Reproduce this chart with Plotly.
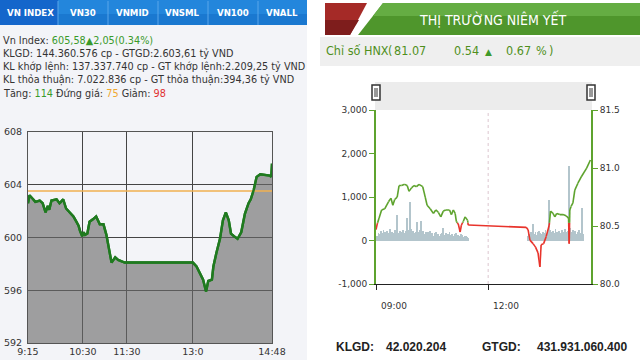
import plotly.graph_objects as go

# ---------------- data ----------------
tabs = ["VN INDEX", "VN30", "VNMID", "VNSML", "VN100", "VNALL"]
tab_centers = [30, 83, 132, 182, 233, 282]

vn_times = ["9:15", "9:17", "9:22", "9:25", "9:31", "9:35", "9:39", "9:42", "9:44", "9:47",
            "9:54", "9:58", "10:00", "10:03", "10:07", "10:10", "10:12", "10:15", "10:17",
            "10:21", "10:24", "10:26", "10:29", "10:31", "10:33", "10:36", "10:39", "10:44",
            "10:48", "10:53", "10:58", "11:02", "11:06", "11:09", "11:14", "11:18", "11:27",
            "13:00", "13:05", "13:10", "13:14", "13:18", "13:21", "13:26", "13:28", "13:32",
            "13:37", "13:41", "13:45", "13:49", "13:52", "13:56", "14:01", "14:06", "14:11",
            "14:16", "14:19", "14:23", "14:27", "14:32", "14:45", "14:47", "14:48"]
vn_values = [602.6, 603.2, 602.9, 602.7, 602.8, 602.6, 601.9, 602.4, 602.1, 602.8,
             602.9, 602.6, 602.7, 602.9, 602.2, 602.0, 601.9, 601.7, 601.6,
             601.2, 600.9, 600.5, 600.1, 600.4, 600.2, 600.3, 601.2, 601.4,
             601.6, 601.0, 601.0, 600.2, 599.0, 598.1, 598.5, 598.3, 598.1,
             598.1, 597.8, 597.3, 596.8, 595.9, 596.7, 596.8, 597.8, 598.8,
             599.9, 601.3, 601.9, 601.3, 600.3, 600.1, 599.9, 600.4, 601.8,
             602.6, 602.9, 603.6, 604.6, 604.8, 604.7, 604.6, 605.6]
vn_ref = 603.53
vn_xtick_times = ["9:15", "10:30", "11:30", "13:00", "14:48"]
vn_xtick_text = ["9:15", "10:30", "11:30", "13:0", "14:48"]
vn_yticks = [592, 596, 600, 604, 608]

hnx_times = ["9:00", "9:02", "9:05", "9:09", "9:14", "9:20", "9:24", "9:27", "9:30", "9:34",
             "9:37", "9:41", "9:46", "9:50", "9:53", "9:57", "10:01", "10:05", "10:09",
             "10:15", "10:19", "10:22", "10:27", "10:32", "10:36", "10:40", "10:44", "10:48",
             "10:52", "10:58", "11:01", "11:04", "11:07", "11:09", "11:12", "11:15", "11:17",
             "11:20", "11:23", "11:27", "11:28", "13:01", "13:04", "13:07", "13:12", "13:16",
             "13:20", "13:23", "13:25", "13:29", "13:33", "13:38", "13:40", "13:44", "13:47",
             "13:50", "13:55", "14:00", "14:05", "14:09", "14:10", "14:11", "14:13", "14:16",
             "14:19", "14:24", "14:30", "14:38", "14:44"]
hnx_values = [80.47, 80.52, 80.57, 80.64, 80.65, 80.71, 80.74, 80.68, 80.73, 80.75,
              80.85, 80.85, 80.86, 80.85, 80.80, 80.83, 80.85, 80.84, 80.86,
              80.84, 80.75, 80.68, 80.65, 80.61, 80.64, 80.62, 80.58, 80.63,
              80.64, 80.64, 80.60, 80.64, 80.61, 80.54, 80.52, 80.45, 80.51,
              80.54, 80.58, 80.55, 80.51, 80.49, 80.47, 80.38, 80.35, 80.32,
              80.27, 80.15, 80.34, 80.35, 80.41, 80.51, 80.63, 80.61, 80.58,
              80.61, 80.60, 80.60, 80.59, 80.57, 80.35, 80.64, 80.67, 80.70,
              80.81, 80.87, 80.93, 81.00, 81.07]
hnx_ref = 80.53

vol_am_start = "9:02"
vol_am = [120, 180, 150, 220, 170, 250, 190, 140, 230, 180, 260, 150, 210, 170, 240, 200,
          590, 180, 230, 160, 210, 250, 170, 220, 520, 240, 900, 260, 190, 230, 170, 210,
          430, 200, 250, 450, 180, 220, 160, 200, 140, 190, 230, 150, 180, 120, 170, 200,
          140, 160, 110, 150, 180, 300, 140, 170, 120, 150, 190, 130, 160, 110, 150, 180,
          120, 140, 100, 160, 130, 90, 120, 100, 80, 60]
vol_pm_start = "13:04"
vol_pm = [100, 150, 200, 170, 380, 160, 210, 140, 190, 230, 170, 150, 200, 180, 240, 160,
          210, 930, 250, 190, 230, 170, 260, 200, 150, 220, 180, 240, 160, 200, 270, 190,
          230, 1720, 300, 210, 250, 180, 220, 160, 200, 240, 180, 740, 150]
vol_step = 2

hnx_xtick_times = ["9:00", "12:00"]
hnx_xtick_text = ["09:00", "12:00"]
vol_ticks = [-1000, 0, 1000, 2000, 3000]
vol_tick_text = ["-1,000", "0", "1,000", "2,000", "3,000"]
price_ticks = [80.0, 80.5, 81.0, 81.5]
price_tick_text = ["80.0", "80.5", "81.0", "81.5"]


def to_min(t):
    h, m = t.split(":")
    return int(h) * 60 + int(m)


W, H = 640, 360
NARROW = "DejaVu Sans Condensed, Liberation Sans Narrow, Liberation Sans"


def px(x):
    return x / W


def py(y):
    return 1 - y / H


vn_x = [to_min(t) for t in vn_times]
hnx_x = [to_min(t) for t in hnx_times]
am_x = [to_min(vol_am_start) + vol_step * i for i in range(len(vol_am))]
pm_x = [to_min(vol_pm_start) + vol_step * i for i in range(len(vol_pm))]


def split_by_ref(xs, ys, ref):
    g = ([], [])
    r = ([], [])
    for i in range(len(xs) - 1):
        x0, y0, x1, y1 = xs[i], ys[i], xs[i + 1], ys[i + 1]
        pts = [(x0, y0)]
        if (y0 - ref) * (y1 - ref) < 0:
            t = (ref - y0) / (y1 - y0)
            pts.append((x0 + t * (x1 - x0), ref))
        pts.append((x1, y1))
        for a, b in zip(pts[:-1], pts[1:]):
            tgt = g if (a[1] + b[1]) / 2 >= ref else r
            tgt[0].extend([a[0], b[0], None])
            tgt[1].extend([a[1], b[1], None])
    return g, r


fig = go.Figure()

# ---------- left chart (VN-Index) ----------
fig.add_trace(go.Scatter(x=vn_x, y=vn_values, mode="lines", xaxis="x", yaxis="y",
                         line=dict(color="#1f7a1f", width=2.4), fill="tozeroy",
                         fillcolor="rgba(105,105,105,0.62)", hoverinfo="skip"))
fig.add_trace(go.Scatter(x=[vn_x[0], vn_x[-1]], y=[vn_ref, vn_ref], mode="lines",
                         xaxis="x", yaxis="y", line=dict(color="#f0b050", width=1.5),
                         hoverinfo="skip"))
fig.add_trace(go.Scatter(x=vn_x, y=vn_values, mode="lines", xaxis="x", yaxis="y",
                         line=dict(color="#1f7a1f", width=2.4), hoverinfo="skip"))

# ---------- right chart (HNX) ----------
fig.add_trace(go.Bar(x=am_x + pm_x, y=vol_am + vol_pm, xaxis="x2", yaxis="y2",
                     width=1.5, marker=dict(color="#b3c5cc", line=dict(width=0)),
                     hoverinfo="skip"))
(gx, gy), (rx, ry) = split_by_ref(hnx_x, hnx_values, hnx_ref)
fig.add_trace(go.Scatter(x=rx, y=ry, mode="lines", xaxis="x2", yaxis="y3",
                         line=dict(color="#e8342c", width=1.6), hoverinfo="skip"))
fig.add_trace(go.Scatter(x=gx, y=gy, mode="lines", xaxis="x2", yaxis="y3",
                         line=dict(color="#5ea32e", width=1.6), hoverinfo="skip"))

shapes = []
# panel backgrounds
shapes.append(dict(type="rect", xref="paper", yref="paper", x0=0, x1=px(307), y0=0, y1=py(25),
                   fillcolor="#f3f4f8", line=dict(width=0), layer="below"))
# tab bar
shapes.append(dict(type="rect", xref="paper", yref="paper", x0=0, x1=px(307), y0=py(25), y1=py(0),
                   fillcolor="#2386dc", line=dict(width=0), layer="below"))
shapes.append(dict(type="rect", xref="paper", yref="paper", x0=0, x1=px(307), y0=py(25), y1=py(14),
                   fillcolor="#1a78d0", line=dict(width=0), layer="below"))
shapes.append(dict(type="rect", xref="paper", yref="paper", x0=0, x1=px(58), y0=py(25), y1=py(0),
                   fillcolor="#1466cb", line=dict(width=0), layer="below"))
for sx in [58, 108, 158, 208, 258]:
    shapes.append(dict(type="line", xref="paper", yref="paper", x0=px(sx), x1=px(sx), y0=py(25), y1=py(1),
                       line=dict(color="#5aa6ea", width=1), layer="below"))

# right header
shapes.append(dict(type="path", xref="paper", yref="paper",
                   path=f"M {px(325)},{py(35)} L {px(325)},{py(3)} L {px(367)},{py(3)} L {px(350)},{py(35)} Z",
                   fillcolor="#a52a27", line=dict(width=0), layer="below"))
shapes.append(dict(type="path", xref="paper", yref="paper",
                   path=f"M {px(325)},{py(35)} L {px(325)},{py(20)} L {px(359)},{py(20)} L {px(350)},{py(35)} Z",
                   fillcolor="#7e1d1c", line=dict(width=0), layer="below"))
shapes.append(dict(type="path", xref="paper", yref="paper",
                   path=f"M {px(358)},{py(35)} L {px(383)},{py(3)} L {px(640)},{py(3)} L {px(640)},{py(35)} Z",
                   fillcolor="#4f962c", line=dict(width=0), layer="below"))
shapes.append(dict(type="path", xref="paper", yref="paper",
                   path=f"M {px(383)},{py(3)} L {px(640)},{py(3)} L {px(640)},{py(16)} L {px(373)},{py(16)} Z",
                   fillcolor="#65ad43", line=dict(width=0), layer="below"))
shapes.append(dict(type="rect", xref="paper", yref="paper", x0=px(320), x1=1, y0=py(66), y1=py(37),
                   fillcolor="#efefef", line=dict(width=0), layer="below"))
# navigator
shapes.append(dict(type="rect", xref="paper", yref="paper", x0=px(375), x1=px(592), y0=py(110), y1=py(82),
                   fillcolor="#ececec", line=dict(width=0), layer="below"))
for hx in [376, 591]:
    shapes.append(dict(type="rect", xref="paper", yref="paper", x0=px(hx - 4), x1=px(hx + 4),
                       y0=py(100), y1=py(85), fillcolor="#ffffff",
                       line=dict(color="#333333", width=1.5)))
    for dx in [-1, 1]:
        shapes.append(dict(type="line", xref="paper", yref="paper", x0=px(hx + dx), x1=px(hx + dx),
                           y0=py(97), y1=py(88), line=dict(color="#333333", width=1)))
# dotted 12:00 line
shapes.append(dict(type="line", xref="x2", yref="paper", x0=to_min("12:00"), x1=to_min("12:00"),
                   y0=py(284), y1=py(110), line=dict(color="#dcc6cf", width=1, dash="dot"),
                   layer="below"))

annotations = []
for name, cx in zip(tabs, tab_centers):
    annotations.append(dict(x=px(cx), y=py(13), xref="paper", yref="paper", text=f"<b>{name}</b>",
                            showarrow=False, xanchor="center", yanchor="middle",
                            font=dict(family="DejaVu Sans", size=8.6, color="#ffffff")))

info_lines = [
    'Vn Index: <span style="color:#3a9a2a">605,58\u25b22,05(0.34%)</span>',
    "KLGD: 144.360.576 cp - GTGD:2.603,61 tỷ VND",
    "KL khớp lệnh: 137.337.740 cp - GT khớp lệnh:2.209,25 tỷ VND",
    "KL thỏa thuận: 7.022.836 cp - GT thỏa thuận:394,36 tỷ VND",
    'Tăng: <span style="color:#3a9a2a">114</span> Đứng giá: <span style="color:#f0a830">75</span>'
    ' Giảm: <span style="color:#e03030">98</span>',
]
for i, t in enumerate(info_lines):
    annotations.append(dict(x=px(1), y=py(40 + 13.3 * i), xref="paper", yref="paper", text=t,
                            showarrow=False, xanchor="left", yanchor="middle",
                            font=dict(family="DejaVu Sans", size=9.7, color="#333333")))

annotations.append(dict(x=px(492), y=py(19), xref="paper", yref="paper",
                        text="THỊ TRƯỜNG NIÊM YẾT", showarrow=False, xanchor="center",
                        yanchor="middle",
                        font=dict(family=NARROW, size=14, color="#ffffff")))
# HNX headline, placed piece by piece
hnx_head = [(324, "Chỉ số HNX"), (386, "("), (392, "81.07"), (452, "0.54"), (504, "0.67"),
            (534, "%"), (547, ")")]
for xx, t in hnx_head:
    annotations.append(dict(x=px(xx), y=py(51), xref="paper", yref="paper", text=t,
                            showarrow=False, xanchor="left", yanchor="middle",
                            font=dict(family=NARROW, size=12.5, color="#4f8f1c")))
annotations.append(dict(x=px(488), y=py(52), xref="paper", yref="paper", text="\u25b2",
                        showarrow=False, xanchor="center", yanchor="middle",
                        font=dict(family="DejaVu Sans", size=9, color="#3f9a2a")))
for t, lab in zip(hnx_xtick_times, hnx_xtick_text):
    annotations.append(dict(x=to_min(t), y=py(306), xref="x2", yref="paper", text=lab,
                            showarrow=False, xanchor="left", yanchor="middle", xshift=3,
                            font=dict(family="DejaVu Sans", size=9, color="#333333")))
for xx, t in [(334, "KLGD:"), (384, "42.020.204"), (480, "GTGD:"), (535, "431.931.060.400")]:
    annotations.append(dict(x=px(xx), y=py(347), xref="paper", yref="paper", text=f"<b>{t}</b>",
                            showarrow=False, xanchor="left", yanchor="middle",
                            font=dict(family="Liberation Sans, Arial", size=12, color="#222222")))

fig.update_layout(
    width=W, height=H, margin=dict(l=0, r=0, t=0, b=0, autoexpand=False),
    paper_bgcolor="#ffffff", plot_bgcolor="rgba(0,0,0,0)",
    showlegend=False, bargap=0,
    shapes=shapes, annotations=annotations,
    xaxis=dict(domain=[px(28), px(272)], anchor="y", range=[to_min("9:15"), to_min("14:48")],
               tickvals=[to_min(t) for t in vn_xtick_times], ticktext=vn_xtick_text,
               showgrid=True, gridcolor="#444444", gridwidth=1, zeroline=False, automargin=False,
               showline=True, linecolor="#555555", mirror=True, ticks="",
               tickfont=dict(family="DejaVu Sans", size=9.5, color="#333333")),
    yaxis=dict(domain=[py(343), py(132)], anchor="x", range=[592, 608], tickvals=vn_yticks,
               showgrid=True, gridcolor="#444444", gridwidth=1, zeroline=False, automargin=False,
               showline=True, linecolor="#555555", mirror=True, ticks="outside", ticklen=3,
               tickcolor="rgba(0,0,0,0)",
               tickfont=dict(family="DejaVu Sans", size=9.5, color="#333333")),
    xaxis2=dict(domain=[px(376), px(591)], anchor="y2", range=[to_min("9:00"), 885],
                tickvals=[to_min(t) for t in hnx_xtick_times], showticklabels=False,
                showgrid=False, zeroline=False, showline=True, linecolor="#222222", automargin=False,
                ticks="outside", ticklen=5, tickcolor="#222222"),
    yaxis2=dict(domain=[py(284.3), py(110)], anchor="x2", range=[-1000, 3000],
                tickvals=vol_ticks, ticktext=vol_tick_text, showgrid=False, zeroline=False,
                showline=True, linecolor="#5ea32e", linewidth=2, ticks="outside", ticklen=5,
                tickcolor="#5ea32e", automargin=False,
                tickfont=dict(family="DejaVu Sans", size=9, color="#333333")),
    yaxis3=dict(overlaying="y2", anchor="x2", side="right", range=[80.0, 81.5],
                tickvals=price_ticks, ticktext=price_tick_text, showgrid=False, zeroline=False,
                showline=True, linecolor="#5ea32e", linewidth=2, ticks="outside", ticklen=5,
                tickcolor="#5ea32e", automargin=False,
                tickfont=dict(family="DejaVu Sans", size=9, color="#333333")),
)

fig.write_html("out.html")
